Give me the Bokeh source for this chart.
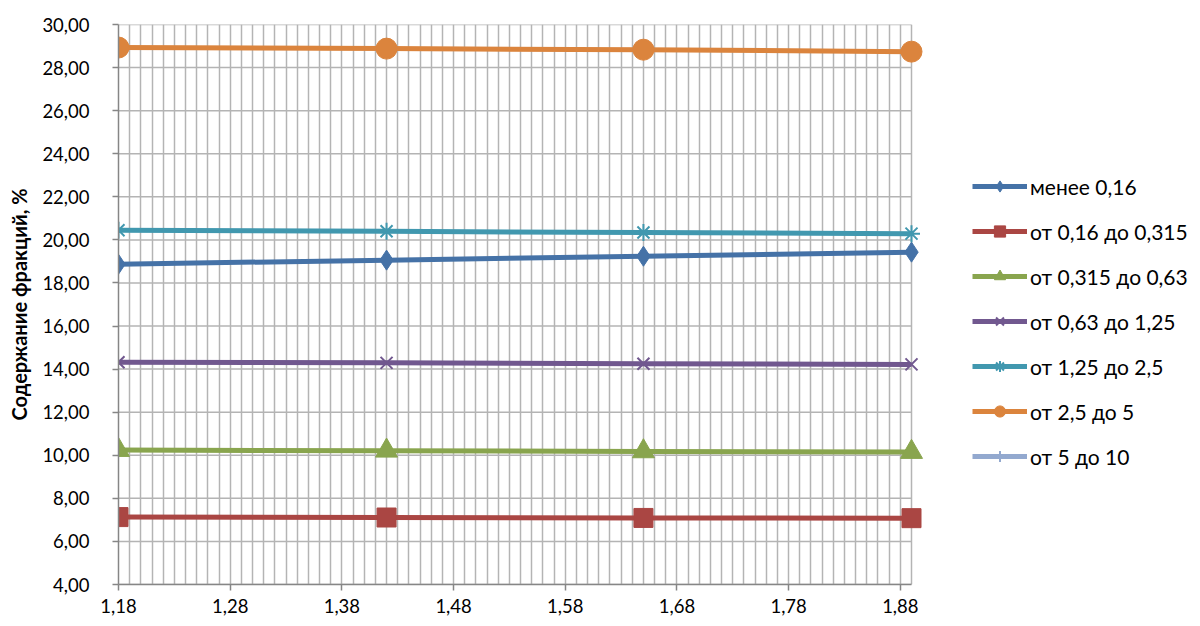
from bokeh.plotting import figure
from bokeh.models import (FixedTicker, CustomJSTickFormatter, Legend, LegendItem,
                          Range1d)
from bokeh.embed import file_html
from bokeh.resources import INLINE
import numpy as np

# Ratio values along the x axis
x_values = [1.18, 1.42, 1.65, 1.89]

# Fraction content, % for each size class
series_names = [
    "менее 0,16",
    "от 0,16 до 0,315",
    "от 0,315 до 0,63",
    "от 0,63 до 1,25",
    "от 1,25 до 2,5",
    "от 2,5 до 5",
    "от 5 до 10",
]
less_016 = [18.87, 19.06, 19.24, 19.43]
from_016_to_0315 = [7.13, 7.11, 7.09, 7.08]
from_0315_to_063 = [10.24, 10.21, 10.18, 10.15]
from_063_to_125 = [14.32, 14.29, 14.25, 14.22]
from_125_to_25 = [20.45, 20.40, 20.34, 20.29]
from_25_to_5 = [28.93, 28.88, 28.83, 28.74]
from_5_to_10 = [0.0, 0.0, 0.0, 0.0]

series_values = [less_016, from_016_to_0315, from_0315_to_063, from_063_to_125,
                 from_125_to_25, from_25_to_5, from_5_to_10]

colors = ["#4572A7", "#AA4643", "#89A54E", "#71588F", "#4198AF", "#DB843D", "#93A9CF"]
markers = ["diamond", "square", "triangle", "x", "asterisk", "circle", "cross"]
marker_sizes = [20, 19, 22, 17, 17, 21, 16]

x_ticks = [1.18, 1.28, 1.38, 1.48, 1.58, 1.68, 1.78, 1.88]
y_ticks = list(range(4, 31, 2))

X_MIN, X_MAX = 1.18, 1.89
Y_MIN, Y_MAX = 4, 30

FONT = "Lato"
FS = "18.5px"
GRID = "#B4B4B4"

# The frame extends to the right edge so the legend can sit beside the plot
# area; axis/grid bounds keep the plot area itself at [X_MIN, X_MAX].
LEFT = 118
PLOT_W = 793
x_end = X_MIN + (1200 - LEFT) * (X_MAX - X_MIN) / PLOT_W

p = figure(width=1200, height=626, output_backend="svg", toolbar_location=None,
           x_range=Range1d(X_MIN, x_end), y_range=Range1d(Y_MIN, Y_MAX))
p.min_border_left = LEFT
p.min_border_right = 0
p.min_border_top = 24
p.min_border_bottom = 42
p.outline_line_color = None
p.background_fill_color = "white"
p.border_fill_color = "white"

# vertical grid lines every 0.01
p.xgrid.ticker = FixedTicker(ticks=list(np.round(np.arange(118, 190) / 100.0, 2)))
p.xgrid.grid_line_color = GRID
p.xgrid.grid_line_width = 1.5
p.xgrid.bounds = (X_MIN, X_MAX)
p.ygrid.grid_line_color = None

# horizontal grid lines on the major y ticks, limited to the plot area
p.segment(x0=[X_MIN] * len(y_ticks), y0=y_ticks, x1=[X_MAX] * len(y_ticks), y1=y_ticks,
          line_color=GRID, line_width=1.5)

fmt = CustomJSTickFormatter(code="return tick.toFixed(2).replace('.', ',');")
p.xaxis.ticker = FixedTicker(ticks=x_ticks)
p.yaxis.ticker = FixedTicker(ticks=y_ticks)
p.xaxis.formatter = fmt
p.yaxis.formatter = fmt
p.xaxis.bounds = (X_MIN, X_MAX)
for ax in (p.xaxis[0], p.yaxis[0]):
    ax.axis_line_color = "#868686"
    ax.axis_line_width = 1.5
    ax.major_tick_line_color = "#868686"
    ax.major_tick_line_width = 1.5
    ax.major_tick_out = 6
    ax.major_tick_in = 0
    ax.minor_tick_line_color = None
    ax.major_label_text_font = FONT
    ax.major_label_text_font_size = FS
    ax.major_label_text_color = "#000000"
p.xaxis.major_label_standoff = 8
p.yaxis.major_label_standoff = 23

p.yaxis.axis_label = "Содержание фракций, %"
p.yaxis.axis_label_text_font = FONT
p.yaxis.axis_label_text_font_size = "20px"
p.yaxis.axis_label_text_font_style = "bold"
p.yaxis.axis_label_text_color = "#000000"
p.yaxis.axis_label_standoff = 8

items = []
for name, vals, c, m, s in zip(series_names, series_values, colors, markers, marker_sizes):
    ln = p.line(x_values, vals, line_color=c, line_width=5)
    sc = p.scatter(x_values, vals, marker=m, size=s, fill_color=c, line_color=c,
                   line_width=2 if m in ("x", "asterisk", "cross") else 1)
    items.append(LegendItem(label=name, renderers=[ln, sc]))

legend = Legend(items=items, location=(854, 114), orientation="vertical")
legend.glyph_width = 55
legend.glyph_height = 28
legend.label_height = 28
legend.spacing = 17
legend.padding = 0
legend.margin = 0
legend.label_standoff = 3
legend.border_line_color = None
legend.background_fill_alpha = 0
legend.label_text_font = FONT
legend.label_text_font_size = "21px"
legend.label_text_color = "#000000"
p.add_layout(legend, "center")

open("out.html", "w").write(file_html(p, INLINE))
